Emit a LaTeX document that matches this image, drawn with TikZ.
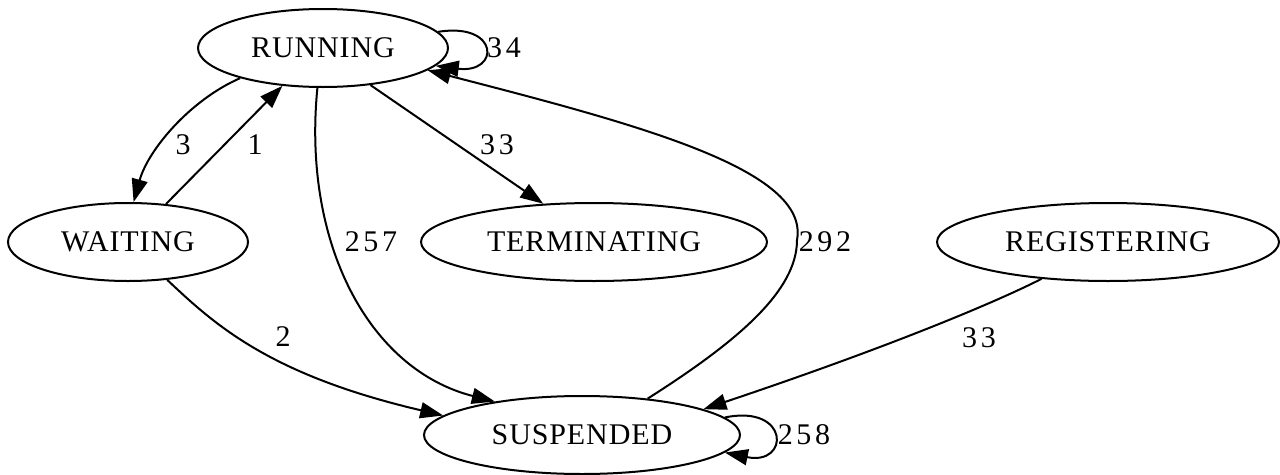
\documentclass[tikz,border=0pt]{standalone}
\usepackage{fontspec}
\setmainfont{Liberation Serif}
\newfontfamily\statefont[LetterSpace=3]{Liberation Serif}
\newfontfamily\countfont[LetterSpace=12]{Liberation Serif}
\usetikzlibrary{shapes.geometric,arrows.meta}
\begin{document}
\begin{tikzpicture}[x=1pt,y=-1pt,
  state/.style={draw,ellipse,line width=2pt,inner sep=0pt,
    minimum height=78pt,font=\statefont\fontsize{30}{36}\selectfont},
  edge/.style={line width=2pt,-{Triangle[length=23pt,width=16pt]}},
  count/.style={inner sep=0pt,font=\countfont\fontsize{30}{36}\selectfont}]
\useasboundingbox (0,0) rectangle (1280,474);

% states
\node[state,minimum width=250pt] (run)  at (323,48)  {RUNNING};
\node[state,minimum width=240pt] (wait) at (128,242) {WAITING};
\node[state,minimum width=346pt] (term) at (594,242) {TERMINATING};
\node[state,minimum width=342pt] (reg)  at (1108,242) {REGISTERING};
\node[state,minimum width=316pt] (susp) at (582,435) {SUSPENDED};

% transitions
\draw[edge] (run.8) .. controls (500,22) and (500,74) .. (run.-9);
\node[count] (c34) at (504,48) {34};

\draw[edge] (run.-160) .. controls (190,100) and (148,150) .. (wait.82);
\node[count] (c3) at (183,145) {3};

\draw[edge] (wait.45) -- (run.-137);
\node[count] (c1) at (255,145) {1};

\draw[edge] (run.-38) -- (term.143);
\node[count] (c33a) at (497,145) {33};

\draw[edge] (run.-98) .. controls (302,245) and (370,370) .. (susp.159);
\node[count] (c257) at (371,242) {257};

\draw[edge] (susp.29) .. controls (740,340) and (797,290) .. (797,240)
  .. controls (810,170) and (640,125) .. (run.-12);
\node[count] (c292) at (825,242) {292};

\draw[edge] (wait.-44) .. controls (215,325) and (270,375) .. (susp.172);
\node[count] (c2) at (283,337) {2};

\draw[edge] (reg.-151) .. controls (990,305) and (880,350) .. (susp.12);
\node[count] (c33b) at (979,338) {33};

\draw[edge] (susp.7) .. controls (790,404) and (790,466) .. (susp.-7);
\node[count] (c258) at (804,435) {258};
\end{tikzpicture}
\end{document}
